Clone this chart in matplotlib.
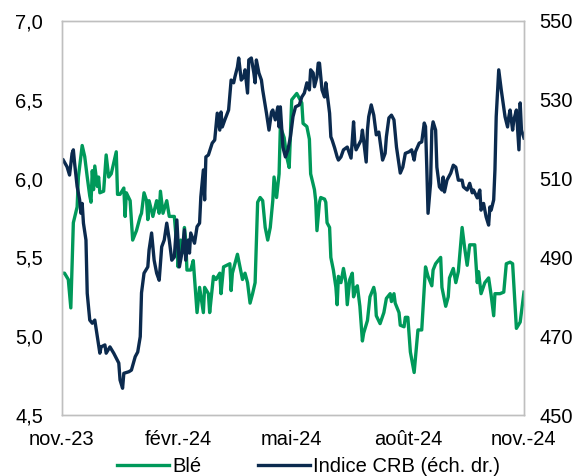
import numpy as np
import pandas as pd
import matplotlib
matplotlib.use('Agg')
import matplotlib.pyplot as plt
import matplotlib.dates as mdates
from matplotlib.ticker import FuncFormatter, FixedLocator

plt.rcParams['font.family'] = ['Liberation Sans', 'DejaVu Sans']

DEBUT = pd.Timestamp('2023-11-01')

# Blé (échelle gauche) : jours depuis le 1er nov. 2023, cours
ble_jours = [0, 2, 5, 7, 9, 12, 13, 16, 18, 20, 22, 23, 24, 25, 26, 28, 29, 30, 33, 35,
             37, 39, 43, 44, 46, 49, 50, 51, 54, 56, 59, 62, 63, 65, 67, 68, 69, 72, 75, 77,
             78, 80, 83, 85, 89, 91, 92, 94, 96, 97, 98, 99, 102, 104, 107, 109, 112, 113, 116, 117,
             120, 122, 125, 126, 128, 133, 134, 135, 139, 142, 143, 145, 147, 149, 151, 153, 155, 157, 159, 161,
             163, 165, 167, 168, 170, 172, 173, 176, 178, 180, 182, 185, 186, 190, 191, 194, 196, 197, 200, 201,
             202, 204, 205, 208, 209, 210, 212, 213, 215, 217, 218, 219, 221, 223, 225, 226, 228, 230, 231, 233,
             234, 236, 238, 239, 242, 244, 247, 248, 249, 252, 255, 257, 260, 261, 263, 264, 267, 268, 271, 272,
             274, 276, 279, 282, 285, 288, 290, 293, 294, 296, 300, 301, 304, 306, 307, 310, 312, 314, 317, 319,
             321, 323, 325, 327, 329, 330, 332, 335, 338, 340, 342, 343, 347, 350, 352, 355, 357, 359, 360, 363,
             366]
ble = [5.40, 5.40, 5.36, 5.18, 5.72, 5.82, 6.01, 6.21, 6.14, 6.01, 5.89, 5.85, 6.05, 5.93, 6.08, 5.95, 6.01, 5.91, 5.92, 6.15,
       6.01, 6.03, 6.17, 5.90, 5.90, 5.94, 5.76, 5.91, 5.86, 5.61, 5.67, 5.76, 5.78, 5.91, 5.86, 5.74, 5.86, 5.76, 5.86, 5.78,
       5.92, 5.78, 5.86, 5.76, 5.76, 5.57, 5.44, 5.61, 5.53, 5.69, 5.61, 5.42, 5.42, 5.48, 5.15, 5.31, 5.15, 5.31, 5.27, 5.15,
       5.38, 5.36, 5.40, 5.27, 5.44, 5.46, 5.29, 5.40, 5.52, 5.40, 5.36, 5.40, 5.34, 5.21, 5.27, 5.34, 5.85, 5.88, 5.86, 5.69,
       5.61, 5.69, 5.86, 6.01, 5.88, 6.03, 6.33, 6.26, 6.14, 6.07, 6.50, 6.53, 6.54, 6.48, 6.35, 6.33, 6.25, 6.03, 5.93, 5.86,
       5.67, 5.85, 5.88, 5.87, 5.85, 5.72, 5.69, 5.50, 5.42, 5.31, 5.20, 5.38, 5.34, 5.43, 5.34, 5.20, 5.36, 5.40, 5.25, 5.31,
       5.32, 5.19, 4.97, 5.02, 5.10, 5.25, 5.31, 5.27, 5.13, 5.08, 5.15, 5.24, 5.27, 5.22, 5.27, 5.21, 5.15, 5.07, 5.06, 5.12,
       5.12, 4.90, 4.77, 5.04, 5.04, 5.44, 5.38, 5.32, 5.42, 5.46, 5.50, 5.31, 5.19, 5.25, 5.37, 5.43, 5.34, 5.41, 5.69, 5.56,
       5.45, 5.58, 5.58, 5.58, 5.34, 5.41, 5.27, 5.34, 5.37, 5.26, 5.13, 5.27, 5.27, 5.28, 5.46, 5.47, 5.46, 5.18, 5.05, 5.09,
       5.28]

# Indice CRB (échelle droite)
crb_jours = [1, 4, 6, 8, 9, 10, 12, 14, 15, 16, 17, 19, 20, 22, 24, 26, 28, 30, 31, 34,
             35, 38, 41, 45, 46, 48, 49, 53, 55, 58, 60, 62, 63, 65, 68, 69, 71, 73, 75, 77,
             79, 81, 83, 85, 87, 89, 91, 93, 95, 97, 98, 100, 101, 102, 105, 107, 109, 110, 112, 113,
             114, 116, 119, 121, 123, 125, 126, 127, 129, 132, 134, 136, 137, 139, 140, 142, 144, 145, 147, 148,
             150, 152, 153, 154, 156, 158, 159, 162, 164, 166, 167, 169, 171, 172, 173, 175, 177, 179, 181, 183,
             185, 188, 190, 192, 194, 196, 197, 199, 200, 202, 203, 204, 206, 208, 209, 212, 213, 214, 216, 218,
             219, 221, 223, 226, 229, 231, 232, 233, 237, 238, 241, 242, 243, 245, 247, 249, 251, 254, 256, 257,
             259, 261, 263, 265, 268, 270, 272, 275, 277, 279, 280, 283, 285, 287, 288, 289, 290, 292, 293, 294,
             296, 297, 299, 301, 302, 303, 305, 308, 310, 312, 314, 317, 318, 321, 323, 325, 326, 329, 331, 332,
             334, 336, 338, 339, 340, 342, 343, 344, 346, 347, 348, 351, 353, 354, 355, 357, 358, 360, 361, 362,
             363, 364, 366]
crb = [514.7, 513.0, 510.9, 516.4, 517.3, 513.9, 508.0, 504.6, 501.2, 503.7, 498.7, 494.4, 480.9, 474.1, 473.3, 474.1, 469.9, 465.7, 467.3, 467.8,
       465.7, 467.3, 465.7, 463.2, 458.9, 456.8, 460.6, 461.0, 461.4, 464.8, 466.0, 469.9, 481.0, 486.0, 487.6, 491.9, 496.2, 489.3, 486.0, 484.2,
       492.7, 494.4, 498.7, 494.4, 489.3, 490.1, 499.5, 487.6, 491.1, 497.0, 489.3, 494.4, 491.1, 496.2, 493.6, 497.8, 498.7, 505.4, 512.2, 504.6,
       515.5, 516.0, 519.0, 519.8, 526.6, 522.3, 526.9, 523.1, 524.9, 527.4, 535.0, 534.3, 535.8, 538.3, 540.6, 535.0, 535.8, 537.6, 531.7, 540.1,
       540.6, 536.8, 534.3, 540.1, 536.8, 535.0, 532.5, 526.6, 522.3, 526.9, 527.4, 524.9, 528.2, 523.1, 528.2, 518.0, 515.5, 517.3, 520.6, 525.7,
       528.2, 528.7, 530.7, 531.7, 534.3, 532.5, 537.6, 536.8, 533.3, 535.8, 539.3, 539.3, 532.5, 530.7, 534.3, 526.6, 520.6, 519.8, 517.8, 515.5,
       514.7, 515.5, 517.3, 518.0, 515.2, 524.4, 519.0, 517.3, 519.8, 522.3, 514.2, 522.3, 525.7, 528.7, 526.1, 521.1, 521.8, 514.7, 516.4, 520.6,
       525.4, 526.1, 524.9, 518.0, 511.4, 512.9, 516.4, 516.8, 517.3, 514.7, 516.8, 519.0, 519.3, 524.1, 523.2, 512.9, 501.2, 508.8, 522.3, 524.4,
       522.3, 512.9, 507.9, 507.1, 510.4, 506.6, 509.6, 511.4, 513.4, 512.9, 509.6, 509.6, 507.9, 507.1, 508.8, 506.4, 507.1, 505.1, 507.1, 502.0,
       503.7, 500.3, 498.2, 502.8, 502.0, 504.6, 512.2, 525.7, 537.6, 535.0, 532.5, 525.7, 523.1, 525.7, 527.4, 522.3, 524.9, 527.4, 522.3, 517.3,
       529.2, 522.3, 520.3]

mois_ticks = ['2023-11-01', '2024-02-01', '2024-05-01', '2024-08-01', '2024-11-01']
mois_labels = ['nov.-23', 'févr.-24', 'mai-24', 'août-24', 'nov.-24']

VERT = '#00995A'
MARINE = '#0B2A4E'
TAILLE = 14.5

ble_dates = DEBUT + pd.to_timedelta(ble_jours, unit='D')
crb_dates = DEBUT + pd.to_timedelta(crb_jours, unit='D')

fig = plt.figure(figsize=(5.82, 4.76), dpi=100)
ax = fig.add_axes([0.1065, 0.128, 0.7938, 0.828])
ax2 = ax.twinx()

l1, = ax.plot(ble_dates, ble, color=VERT, lw=2.4, label='Blé', solid_joinstyle='round')
l2, = ax2.plot(crb_dates, crb, color=MARINE, lw=2.4, label='Indice CRB (éch. dr.)', solid_joinstyle='round')

ax.set_xlim(pd.Timestamp('2023-11-01'), pd.Timestamp('2024-11-01'))
ax.set_ylim(4.5, 7.0)
ax2.set_ylim(450, 550)
ax.set_yticks([4.5, 5.0, 5.5, 6.0, 6.5, 7.0])
ax2.set_yticks([450, 470, 490, 510, 530, 550])
ax.yaxis.set_major_formatter(FuncFormatter(lambda v, p: f"{v:.1f}".replace('.', ',')))

ax.xaxis.set_major_locator(FixedLocator([mdates.date2num(pd.Timestamp(d)) for d in mois_ticks]))
ax.set_xticklabels(mois_labels)

for a in (ax, ax2):
    for s in a.spines.values():
        s.set_color('#BFBFBF')
        s.set_linewidth(1.0)
    a.tick_params(length=0, labelsize=TAILLE, colors='black')
ax.tick_params(axis='y', pad=13.5)
ax2.tick_params(axis='y', pad=11)
ax.tick_params(axis='x', pad=10.5)

fig.legend(handles=[l1, l2], loc='center', bbox_to_anchor=(0.53, 0.019), ncol=2,
           frameon=False, fontsize=TAILLE, handlelength=2.6, handletextpad=0.15,
           columnspacing=2.8, borderpad=0)

fig.savefig('out.png', dpi=100)
